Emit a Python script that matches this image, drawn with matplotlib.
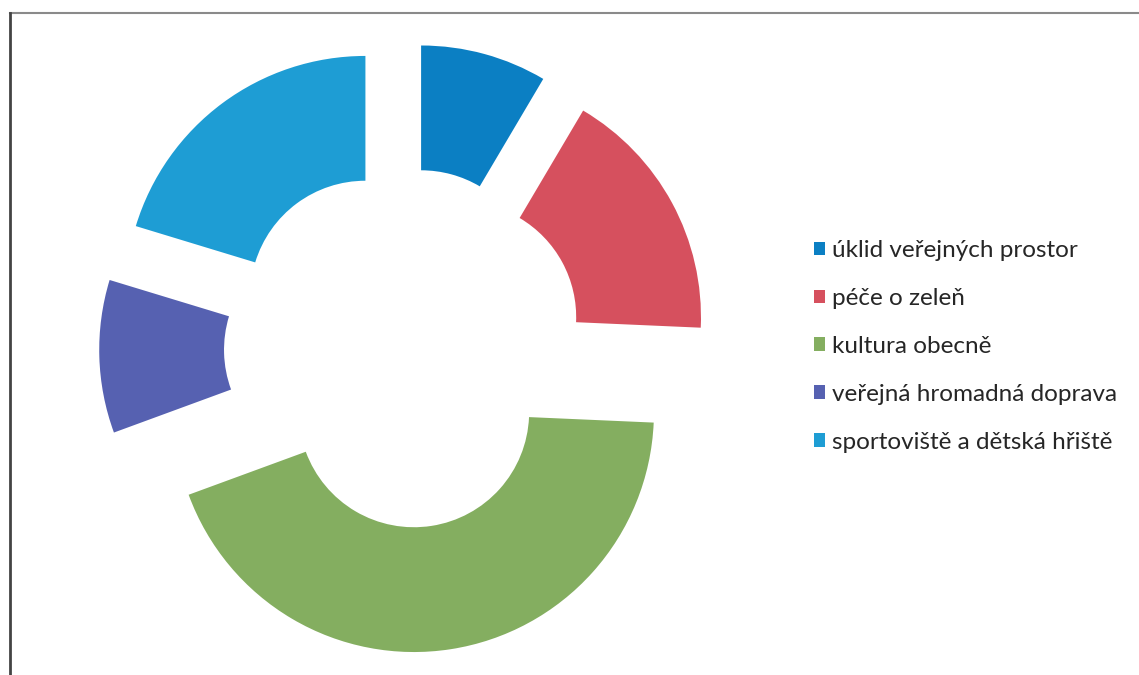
import matplotlib.pyplot as plt
from matplotlib.patches import Patch
from matplotlib.lines import Line2D

labels = ['úklid veřejných prostor', 'péče o zeleň', 'kultura obecně',
          'veřejná hromadná doprava', 'sportoviště a dětská hřiště']
values = [8.5, 17.2, 43.7, 10.3, 20.3]
colors = ['#0B7FC3', '#D6505E', '#84AE60', '#5661B1', '#1E9DD4']

W, H = 1139, 675
fig = plt.figure(figsize=(W / 100, H / 100), dpi=100)
ax = fig.add_axes([0, 0, 1, 1])

# pie centre and radius in pixels
cx, cy, R = 404, 675 - 348, 240
ax.pie(values, colors=colors, startangle=90, counterclock=False,
       explode=[0.27] * len(values),
       wedgeprops=dict(width=0.52, linewidth=0))
ax.set_xlim(-cx / R, (W - cx) / R)
ax.set_ylim(-cy / R, (H - cy) / R)
ax.set_aspect('auto')
ax.axis('off')

# scanned frame
fig.add_artist(Line2D([10 / W, 1], [1 - 13 / H] * 2, color='#8a8a8a', lw=1.5))
fig.add_artist(Line2D([10 / W] * 2, [0, 1 - 13 / H], color='#444444', lw=2))

handles = [Patch(facecolor=c, edgecolor='none') for c in colors]
fig.legend(handles, labels, loc='upper left',
           bbox_to_anchor=(792 / W, 1 - 218 / H), frameon=False,
           prop={'family': 'Lato', 'size': 17.5}, handlelength=0.47,
           handleheight=0.47, handletextpad=0.28, labelspacing=1.11,
           labelcolor='#262626')

fig.savefig('out.png', dpi=100)
